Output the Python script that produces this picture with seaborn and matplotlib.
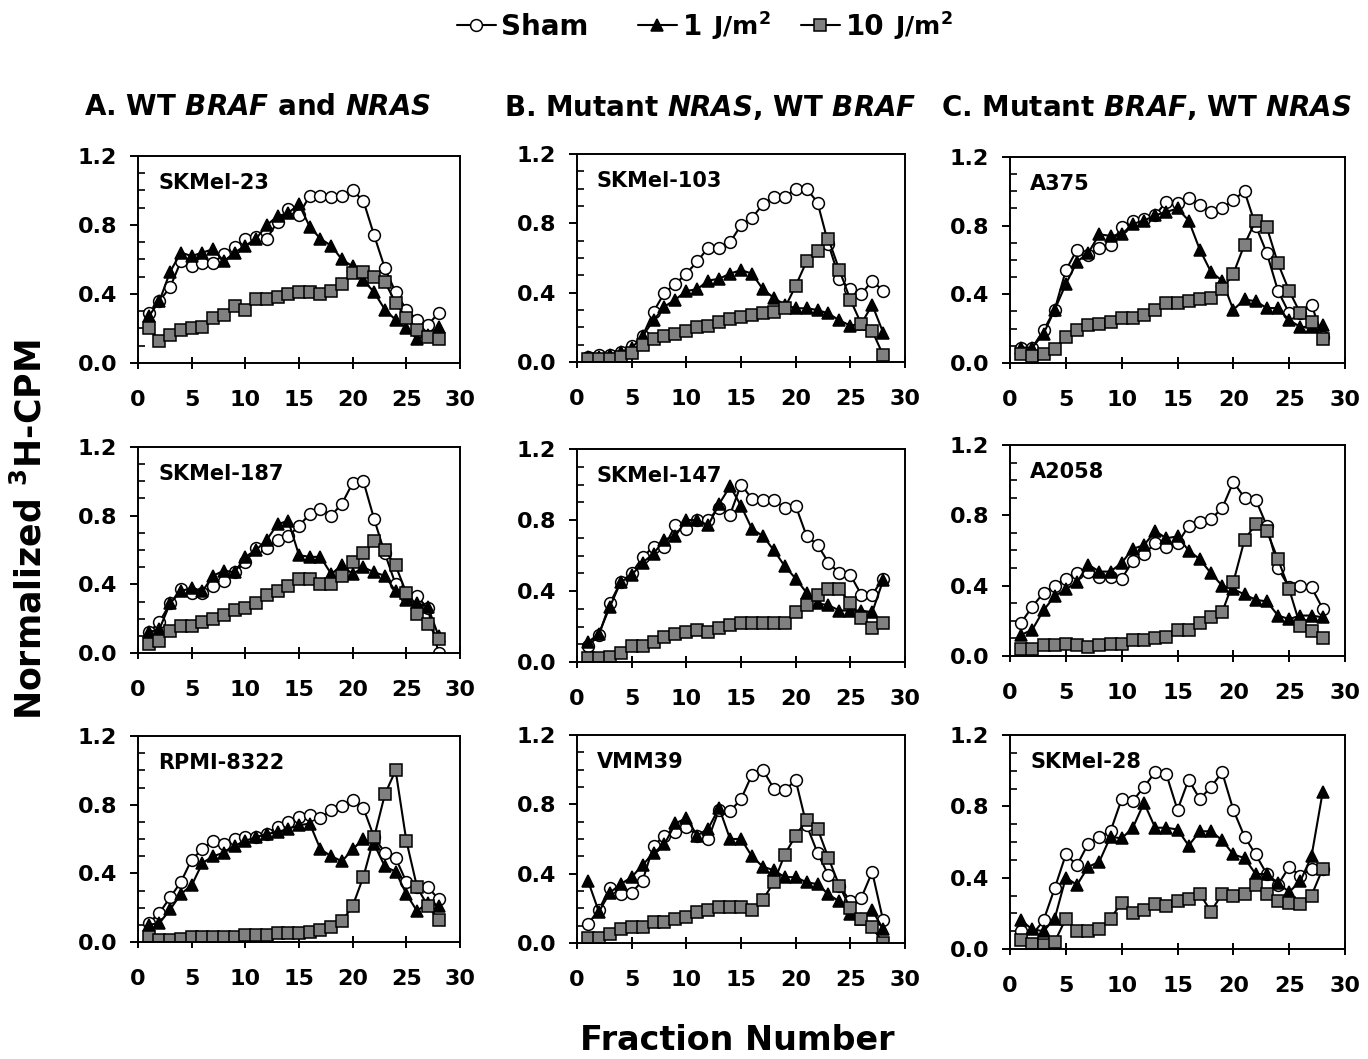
import pandas as pd
import matplotlib.pyplot as plt
import seaborn as sns
from matplotlib.lines import Line2D
from matplotlib.ticker import MultipleLocator

sns.set_style("ticks")
plt.rcParams['font.family'] = ['DejaVu Sans']
plt.rcParams['text.color'] = 'black'
plt.rcParams['axes.labelcolor'] = 'black'
plt.rcParams['xtick.color'] = 'black'
plt.rcParams['ytick.color'] = 'black'
plt.rcParams['mathtext.fontset'] = 'custom'
plt.rcParams['mathtext.rm'] = 'DejaVu Sans:bold'
plt.rcParams['mathtext.bf'] = 'DejaVu Sans:bold'
plt.rcParams['mathtext.it'] = 'DejaVu Sans:italic:bold'
plt.rcParams['mathtext.bfit'] = 'DejaVu Sans:italic:bold'

fractions = list(range(1, 29))

# A. WT BRAF and NRAS
skmel23_sham = [0.29, 0.36, 0.44, 0.59, 0.56, 0.58, 0.58, 0.63, 0.67, 0.72, 0.73, 0.72, 0.82, 0.89,
                0.86, 0.97, 0.97, 0.96, 0.97, 1.00, 0.94, 0.74, 0.55, 0.41, 0.31, 0.25, 0.22, 0.29]
skmel23_1j = [0.27, 0.36, 0.53, 0.64, 0.62, 0.64, 0.66, 0.59, 0.64, 0.68, 0.72, 0.80, 0.85, 0.87,
              0.92, 0.79, 0.72, 0.68, 0.60, 0.56, 0.48, 0.41, 0.31, 0.25, 0.20, 0.14, 0.16, 0.21]
skmel23_10j = [0.20, 0.13, 0.16, 0.19, 0.20, 0.21, 0.26, 0.28, 0.33, 0.31, 0.37, 0.37, 0.38, 0.40,
               0.41, 0.41, 0.40, 0.42, 0.46, 0.52, 0.53, 0.50, 0.47, 0.35, 0.26, 0.19, 0.15, 0.14]

skmel187_sham = [0.12, 0.18, 0.29, 0.37, 0.35, 0.35, 0.39, 0.42, 0.47, 0.53, 0.61, 0.61, 0.66, 0.68,
                 0.74, 0.81, 0.84, 0.80, 0.87, 0.99, 1.00, 0.78, 0.58, 0.40, 0.33, 0.33, 0.26, 0.00]
skmel187_1j = [0.12, 0.14, 0.29, 0.36, 0.38, 0.36, 0.45, 0.48, 0.47, 0.56, 0.60, 0.66, 0.75, 0.77,
               0.57, 0.56, 0.56, 0.46, 0.51, 0.46, 0.50, 0.47, 0.45, 0.36, 0.31, 0.29, 0.27, 0.10]
skmel187_10j = [0.05, 0.07, 0.13, 0.16, 0.16, 0.18, 0.20, 0.22, 0.25, 0.26, 0.29, 0.34, 0.36, 0.39,
                0.43, 0.43, 0.40, 0.40, 0.45, 0.53, 0.58, 0.65, 0.60, 0.51, 0.35, 0.23, 0.17, 0.08]

rpmi8322_sham = [0.11, 0.17, 0.26, 0.35, 0.48, 0.54, 0.59, 0.57, 0.60, 0.61, 0.61, 0.63, 0.67, 0.70,
                 0.73, 0.74, 0.72, 0.77, 0.79, 0.83, 0.78, 0.61, 0.52, 0.49, 0.35, 0.32, 0.32, 0.25]
rpmi8322_1j = [0.10, 0.11, 0.19, 0.28, 0.33, 0.46, 0.50, 0.52, 0.56, 0.59, 0.61, 0.63, 0.64, 0.66,
               0.68, 0.69, 0.54, 0.50, 0.47, 0.54, 0.60, 0.57, 0.44, 0.41, 0.28, 0.18, 0.23, 0.21]
rpmi8322_10j = [0.03, 0.01, 0.01, 0.02, 0.03, 0.03, 0.03, 0.03, 0.03, 0.04, 0.04, 0.04, 0.05, 0.05,
                0.05, 0.06, 0.07, 0.09, 0.12, 0.21, 0.38, 0.61, 0.86, 1.00, 0.59, 0.32, 0.21, 0.13]

# B. Mutant NRAS, WT BRAF
skmel103_sham = [0.03, 0.04, 0.04, 0.06, 0.09, 0.15, 0.29, 0.40, 0.45, 0.51, 0.58, 0.66, 0.66, 0.69,
                 0.79, 0.83, 0.91, 0.95, 0.95, 1.00, 1.00, 0.92, 0.68, 0.48, 0.42, 0.39, 0.47, 0.41]
skmel103_1j = [0.03, 0.03, 0.04, 0.06, 0.08, 0.15, 0.24, 0.32, 0.36, 0.41, 0.42, 0.47, 0.48, 0.51,
               0.53, 0.51, 0.42, 0.37, 0.33, 0.31, 0.31, 0.30, 0.28, 0.24, 0.21, 0.22, 0.33, 0.17]
skmel103_10j = [0.02, 0.02, 0.02, 0.03, 0.05, 0.10, 0.13, 0.15, 0.16, 0.18, 0.20, 0.21, 0.23, 0.25,
                0.26, 0.27, 0.28, 0.29, 0.31, 0.44, 0.58, 0.64, 0.71, 0.53, 0.36, 0.22, 0.18, 0.04]

skmel147_sham = [0.09, 0.15, 0.33, 0.45, 0.50, 0.59, 0.65, 0.65, 0.77, 0.75, 0.80, 0.80, 0.87, 0.83,
                 1.00, 0.92, 0.91, 0.91, 0.87, 0.88, 0.71, 0.66, 0.56, 0.50, 0.49, 0.38, 0.38, 0.47]
skmel147_1j = [0.11, 0.16, 0.31, 0.45, 0.49, 0.56, 0.61, 0.69, 0.71, 0.80, 0.80, 0.77, 0.89, 0.99,
               0.88, 0.75, 0.71, 0.63, 0.54, 0.47, 0.39, 0.33, 0.32, 0.29, 0.29, 0.29, 0.28, 0.46]
skmel147_10j = [0.02, 0.02, 0.03, 0.05, 0.09, 0.09, 0.11, 0.14, 0.16, 0.17, 0.18, 0.17, 0.19, 0.21,
                0.22, 0.22, 0.22, 0.22, 0.22, 0.28, 0.32, 0.38, 0.41, 0.41, 0.33, 0.25, 0.19, 0.22]

vmm39_sham = [0.11, 0.19, 0.32, 0.28, 0.29, 0.36, 0.56, 0.62, 0.64, 0.67, 0.62, 0.60, 0.77, 0.76,
              0.83, 0.97, 1.00, 0.89, 0.88, 0.94, 0.68, 0.52, 0.39, 0.33, 0.24, 0.26, 0.41, 0.13]
vmm39_1j = [0.36, 0.18, 0.29, 0.34, 0.38, 0.45, 0.52, 0.57, 0.69, 0.72, 0.62, 0.66, 0.78, 0.60,
            0.60, 0.50, 0.44, 0.42, 0.38, 0.38, 0.35, 0.34, 0.28, 0.24, 0.17, 0.14, 0.19, 0.08]
vmm39_10j = [0.03, 0.03, 0.05, 0.08, 0.09, 0.09, 0.12, 0.12, 0.14, 0.15, 0.18, 0.19, 0.21, 0.21,
             0.21, 0.19, 0.25, 0.35, 0.51, 0.62, 0.71, 0.66, 0.49, 0.33, 0.20, 0.14, 0.09, 0.00]

# C. Mutant BRAF, WT NRAS
a375_sham = [0.09, 0.09, 0.19, 0.31, 0.54, 0.66, 0.63, 0.67, 0.69, 0.79, 0.83, 0.84, 0.86, 0.94,
             0.93, 0.96, 0.92, 0.88, 0.90, 0.95, 1.00, 0.80, 0.64, 0.42, 0.29, 0.29, 0.34, 0.15]
a375_1j = [0.09, 0.09, 0.17, 0.31, 0.46, 0.59, 0.64, 0.75, 0.74, 0.75, 0.81, 0.83, 0.86, 0.88,
           0.90, 0.83, 0.66, 0.53, 0.48, 0.31, 0.37, 0.36, 0.32, 0.32, 0.25, 0.21, 0.21, 0.22]
a375_10j = [0.05, 0.04, 0.05, 0.08, 0.15, 0.19, 0.22, 0.23, 0.24, 0.26, 0.26, 0.28, 0.31, 0.35,
            0.35, 0.36, 0.37, 0.38, 0.43, 0.52, 0.69, 0.83, 0.79, 0.58, 0.42, 0.29, 0.24, 0.14]

a2058_sham = [0.19, 0.28, 0.36, 0.40, 0.44, 0.47, 0.48, 0.45, 0.45, 0.44, 0.54, 0.58, 0.64, 0.62,
              0.64, 0.74, 0.76, 0.78, 0.84, 0.99, 0.90, 0.89, 0.74, 0.50, 0.39, 0.40, 0.39, 0.27]
a2058_1j = [0.12, 0.15, 0.26, 0.34, 0.38, 0.42, 0.52, 0.48, 0.48, 0.53, 0.61, 0.63, 0.71, 0.67,
            0.68, 0.60, 0.55, 0.47, 0.40, 0.38, 0.35, 0.32, 0.31, 0.23, 0.21, 0.23, 0.23, 0.22]
a2058_10j = [0.04, 0.04, 0.06, 0.06, 0.07, 0.06, 0.05, 0.06, 0.07, 0.07, 0.09, 0.09, 0.10, 0.11,
             0.15, 0.15, 0.19, 0.22, 0.25, 0.42, 0.66, 0.75, 0.71, 0.55, 0.38, 0.17, 0.14, 0.10]

skmel28_sham = [0.10, 0.08, 0.16, 0.34, 0.53, 0.47, 0.59, 0.63, 0.66, 0.84, 0.83, 0.91, 0.99, 0.98,
                0.78, 0.95, 0.84, 0.91, 0.99, 0.78, 0.63, 0.53, 0.42, 0.36, 0.46, 0.41, 0.45, 0.45]
skmel28_1j = [0.16, 0.11, 0.10, 0.17, 0.40, 0.36, 0.46, 0.49, 0.63, 0.62, 0.68, 0.82, 0.68, 0.68,
              0.67, 0.58, 0.66, 0.66, 0.61, 0.53, 0.51, 0.42, 0.42, 0.37, 0.32, 0.38, 0.52, 0.88]
skmel28_10j = [0.05, 0.03, 0.02, 0.04, 0.17, 0.10, 0.10, 0.11, 0.17, 0.26, 0.20, 0.22, 0.25, 0.24,
               0.27, 0.28, 0.31, 0.21, 0.31, 0.30, 0.31, 0.36, 0.31, 0.27, 0.26, 0.25, 0.30, 0.45]

col_titles = [r"A. WT $\mathbfit{BRAF}$ and $\mathbfit{NRAS}$",
              r"B. Mutant $\mathbfit{NRAS}$, WT $\mathbfit{BRAF}$",
              r"C. Mutant $\mathbfit{BRAF}$, WT $\mathbfit{NRAS}$"]
series_names = ['Sham', '1 J/m2', '10 J/m2']

# columns of panels, top to bottom
panels = [
    [('SKMel-23', skmel23_sham, skmel23_1j, skmel23_10j),
     ('SKMel-187', skmel187_sham, skmel187_1j, skmel187_10j),
     ('RPMI-8322', rpmi8322_sham, rpmi8322_1j, rpmi8322_10j)],
    [('SKMel-103', skmel103_sham, skmel103_1j, skmel103_10j),
     ('SKMel-147', skmel147_sham, skmel147_1j, skmel147_10j),
     ('VMM39', vmm39_sham, vmm39_1j, vmm39_10j)],
    [('A375', a375_sham, a375_1j, a375_10j),
     ('A2058', a2058_sham, a2058_1j, a2058_10j),
     ('SKMel-28', skmel28_sham, skmel28_1j, skmel28_10j)],
]

# pixel boxes (left, top, right, bottom)
boxes = [
    [(138, 156, 460, 363), (138, 447, 460, 653), (138, 736, 460, 942)],
    [(577, 154, 905, 362), (577, 449, 905, 662), (577, 735, 905, 943)],
    [(1010, 157, 1345, 363), (1010, 445, 1345, 656), (1010, 735, 1345, 949)],
]
title_x = [258, 710, 1146]

styles = [
    dict(marker='o', markerfacecolor='white', markersize=8.5),
    dict(marker='^', markerfacecolor='black', markersize=9),
    dict(marker='s', markerfacecolor='#808080', markersize=8.3),
]

W, H = 1368, 1059
fig = plt.figure(figsize=(W / 100, H / 100), dpi=100)

for c in range(3):
    for r in range(3):
        name, sham, j1, j10 = panels[c][r]
        l, t, rt, b = boxes[c][r]
        ax = fig.add_axes([l / W, 1 - b / H, (rt - l) / W, (b - t) / H])
        df = pd.DataFrame({'Fraction': fractions, 'Sham': sham, '1 J/m2': j1, '10 J/m2': j10})
        for s, st in zip(series_names, styles):
            sns.lineplot(data=df, x='Fraction', y=s, ax=ax, color='black', linewidth=1.5,
                         markeredgecolor='black', markeredgewidth=1.1, **st)
        ax.set_xlim(0, 30)
        ax.set_ylim(0, 1.2)
        ax.set_xticks(range(0, 31, 5))
        ax.set_yticks([0, 0.4, 0.8, 1.2])
        ax.set_yticklabels(['0.0', '0.4', '0.8', '1.2'])
        ax.yaxis.set_minor_locator(MultipleLocator(0.1))
        ax.tick_params(axis='x', which='major', direction='inout', length=9, width=1.4, pad=15)
        ax.tick_params(axis='y', which='major', direction='out', length=6, width=1.4, pad=9)
        ax.tick_params(axis='y', which='minor', direction='in', length=5, width=1.2)
        for lab in ax.get_xticklabels() + ax.get_yticklabels():
            lab.set_fontsize(16)
            lab.set_fontweight('bold')
        for sp in ax.spines.values():
            sp.set_linewidth(1.4)
            sp.set_color('black')
        ax.set_xlabel('')
        ax.set_ylabel('')
        ax.text(20 / (rt - l), 1 - 27 / (b - t), name, transform=ax.transAxes,
                fontsize=15, fontweight='bold', ha='left', va='center')
    fig.text(title_x[c] / W, 1 - 107 / H, col_titles[c], fontsize=20, fontweight='bold',
             ha='center', va='center')

fig.text(30 / W, 1 - 530 / H, 'Normalized $^{3}$H-CPM', rotation=90, fontsize=25,
         fontweight='bold', ha='center', va='center')
fig.text(737 / W, 1 - 1040 / H, 'Fraction Number', fontsize=24, fontweight='bold',
         ha='center', va='center')

# legend at top
handles = [Line2D([], [], color='black', linewidth=1.5, markeredgecolor='black',
                  markeredgewidth=1.1, **st) for st in styles]
leg_labels = ['Sham', '1', '10']
leg_x = [457, 638, 801]
legends = []
for h, lab, x in zip(handles, leg_labels, leg_x):
    leg = fig.legend(handles=[h], labels=[lab], loc='center left',
                     bbox_to_anchor=(x / W, 1 - 27 / H), frameon=False, handlelength=1.4,
                     handletextpad=0.2, borderpad=0, borderaxespad=0,
                     prop=dict(weight='bold', size=20))
    legends.append(leg)

fig.canvas.draw()
for leg in legends[1:]:
    bb = leg.get_texts()[0].get_window_extent()
    fig.text((bb.x1 + 10) / W, (bb.y0 + bb.y1) / 2 / H, 'J/m$^{2}$', fontsize=18,
             fontweight='bold', ha='left', va='center')

fig.savefig('out.png', dpi=100)
